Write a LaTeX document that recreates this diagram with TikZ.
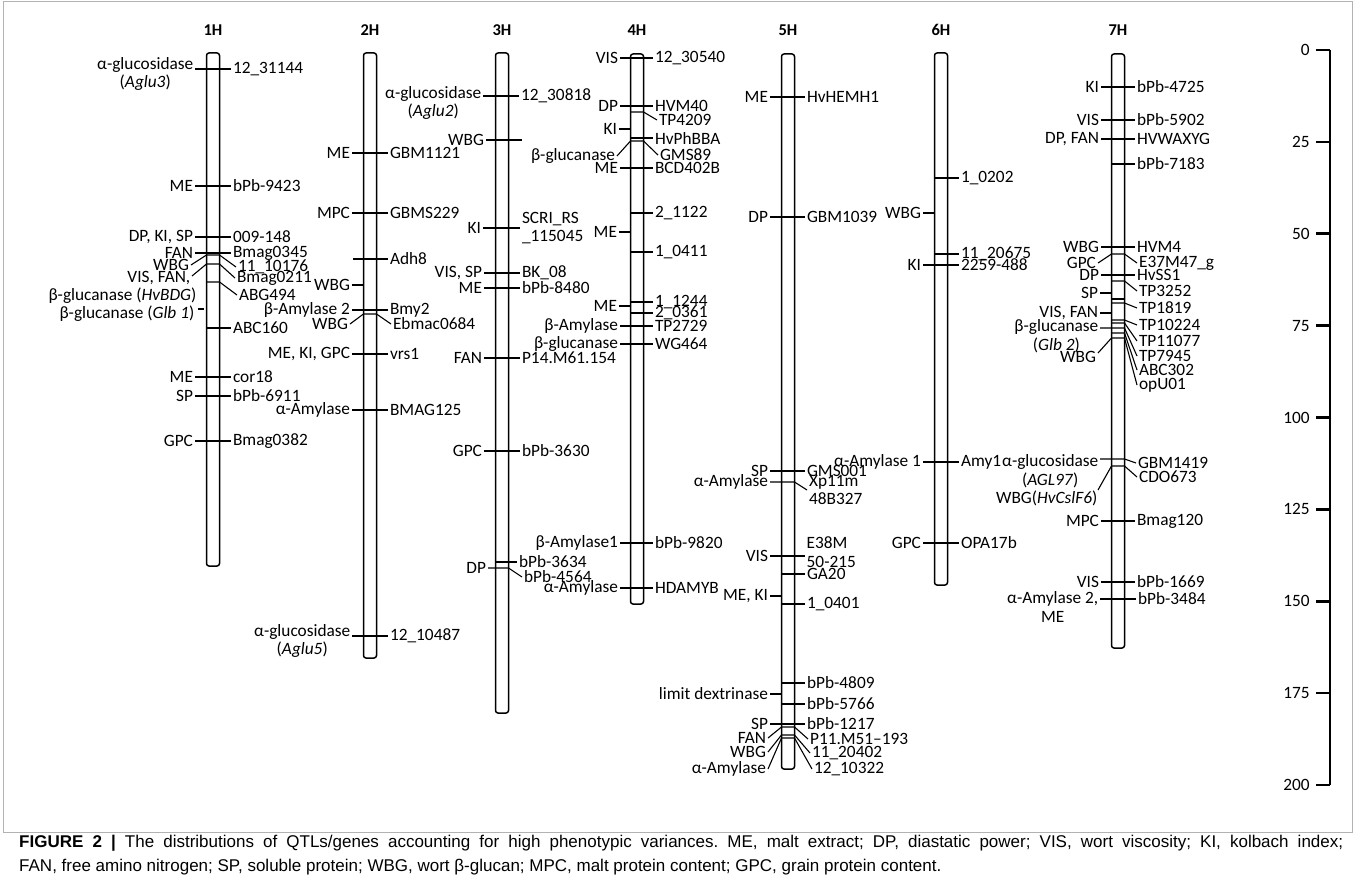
\documentclass[tikz,border=0pt]{standalone}
\usepackage{fontspec}
\setmainfont{Carlito}
\newfontfamily\capfont{Liberation Sans}
\frenchspacing

\begin{document}
\begin{tikzpicture}[
        x=1pt, y=-1pt,
        every node/.style={font=\fontsize{17.3}{18.5}\selectfont, inner sep=1.5pt},
        chrom/.style={draw, line width=1.5pt, rounded corners=2.5pt},
        qline/.style={line width=1.1pt},
        ql/.style={anchor=east},
        mr/.style={anchor=west},
        chname/.style={font=\fontsize{16.5}{18}\selectfont\bfseries},
        capline/.style={anchor=west, inner sep=0pt, font=\capfont\fontsize{17}{20}\selectfont},
        scaletick/.style={line width=2.6pt}
    ]
    \useasboundingbox (0,0) rectangle (1355,883);
    \draw[gray!60, line width=0.8pt] (3,1) rectangle (1352,832);

    % 1H
    \begin{scope}[shift={(213,0)}]
        \node[chname] (h1) at (0,30) {1H};
        \draw[chrom] (-6.5,53) rectangle (6.5,566);
        \foreach \yy/\lt/\rt in {186/ME/bPb-9423, 237/{DP, KI, SP}/009-148, 253/FAN/Bmag0345,
                377/ME/cor18, 396/SP/bPb-6911, 441/GPC/Bmag0382}
            \draw[qline] (-18,\yy) node[ql] (h1l\yy) {\lt} -- (18,\yy) node[mr] (h1r\yy) {\rt};
        \draw[qline] (-18,69) -- (18,69) node[mr] (h1r69) {12\_31144};
        \node[ql, align=center] (aglu3) at (-18,74) {α-glucosidase\\(\textit{Aglu3})};
        \draw[qline] (-22,265) node[ql] (h1wbg) {WBG} -- (-6.5,255) -- (6.5,255) -- (23,267) node[mr] (h1r255) {11\_10176};
        \draw[qline] (-21,276) -- (-6.5,264) -- (6.5,264) -- (22,278) node[mr] (h1r264) {Bmag0211};
        \node[ql] (h1vis) at (-21,278) {VIS, FAN,};
        \node[ql] (hvbdg) at (-15,296) {β-glucanase (\textit{HvBDG})};
        \draw[qline] (-6.5,282) -- (6.5,282) -- (24,295) node[mr] (h1r282) {ABG494};
        \draw[qline] (-15,309) -- (-9,309);
        \node[ql] (glb1) at (-17,314) {β-glucanase (\textit{Glb 1})};
        \draw[qline] (-6.5,328) -- (18,328) node[mr] (h1r328) {ABC160};
    \end{scope}

    % 2H
    \begin{scope}[shift={(370,0)}]
        \node[chname] (h2) at (0,30) {2H};
        \draw[chrom] (-6.5,53) rectangle (6.5,658);
        \foreach \yy/\lt/\rt in {153/ME/GBM1121, 213/MPC/GBMS229, 310/{β-Amylase 2}/Bmy2,
                354/{ME, KI, GPC}/vrs1, 410/α-Amylase/BMAG125}
            \draw[qline] (-18,\yy) node[ql] (h2l\yy) {\lt} -- (18,\yy) node[mr] (h2r\yy) {\rt};
        \draw[qline] (-17,259) -- (18,259) node[mr] (h2r259) {Adh8};
        \draw[qline] (-18,285) node[ql] (h2l285) {WBG} -- (-6.5,285);
        \draw[qline] (-20,324) node[ql] (h2l314) {WBG} -- (-6.5,314) -- (6.5,314) -- (21,324) node[mr] (h2r314) {Ebmac0684};
        \draw[qline] (-18,636) -- (18,636) node[mr] (h2r636) {12\_10487};
        \node[ql, align=center] (aglu5) at (-18,641) {α-glucosidase\\(\textit{Aglu5})};
    \end{scope}

    % 3H
    \begin{scope}[shift={(502,0)}]
        \node[chname] (h3) at (0,30) {3H};
        \draw[chrom] (-6.5,53) rectangle (6.5,713);
        \foreach \yy/\lt/\rt in {273/{VIS, SP}/BK\_08, 288/ME/bPb-8480, 358/FAN/P14.M61.154, 451/GPC/bPb-3630}
            \draw[qline] (-18,\yy) node[ql] (h3l\yy) {\lt} -- (18,\yy) node[mr] (h3r\yy) {\rt};
        \draw[qline] (-19,96) -- (17,96) node[mr] (h3r96) {12\_30818};
        \node[ql, align=center] (aglu2) at (-19,103) {α-glucosidase\\(\textit{Aglu2})};
        \draw[qline] (-16,140) node[ql] (h3l140) {WBG} -- (20,140);
        \draw[qline] (-19,228) node[ql] (h3l228) {KI} -- (18,228) node[mr, align=left] (h3r228) {SCRI\_RS\\\_115045};
        \draw[qline] (-6.5,562) -- (15,562) node[mr] (h3r562) {bPb-3634};
        \draw[qline] (-14,568) node[ql] (h3l568) {DP} -- (6.5,568) -- (20,577) node[mr] (h3r568) {bPb-4564};
    \end{scope}

    % 4H
    \begin{scope}[shift={(637,0)}]
        \node[chname] (h4) at (0,30) {4H};
        \draw[chrom] (-6.5,54) rectangle (6.5,604);
        \foreach \yy/\lt/\rt in {58/VIS/12\_30540, 106/DP/HVM40, 168/ME/BCD402B, 326/β-Amylase/TP2729,
                344/β-glucanase/WG464, 543/β-Amylase1/bPb-9820, 588/α-Amylase/HDAMYB}
            \draw[qline] (-17,\yy) node[ql] (h4l\yy) {\lt} -- (16,\yy) node[mr] (h4r\yy) {\rt};
        \foreach \yy/\rt in {138/HvPhBBA, 213/2\_1122, 252/1\_0411, 302/1\_1244, 313/2\_0361}
            \draw[qline] (-6.5,\yy) -- (16,\yy) node[mr] (h4r\yy) {\rt};
        \foreach \yy/\lt in {129/KI, 232/ME, 306/ME}
            \draw[qline] (-18,\yy) node[ql] (h4l\yy) {\lt} -- (-6.5,\yy);
        \draw[qline] (-6.5,112) -- (6.5,112) -- (20,120) node[mr] (h4r112) {TP4209};
        \draw[qline] (-20,156) node[ql] (h4l141) {β-glucanase} -- (-6.5,141) -- (6.5,141) -- (21,155) node[mr] (h4r141) {GMS89};
    \end{scope}

    % 5H
    \begin{scope}[shift={(788,0)}]
        \node[chname] (h5) at (0,30) {5H};
        \draw[chrom] (-6.5,54) rectangle (6.5,769);
        \foreach \yy/\lt/\rt in {97/ME/HvHEMH1, 217/DP/GBM1039, 471/SP/GMS001, 724/SP/bPb-1217}
            \draw[qline] (-18,\yy) node[ql] (h5l\yy) {\lt} -- (17,\yy) node[mr] (h5r\yy) {\rt};
        \foreach \yy/\rt in {574/GA20, 604/1\_0401, 683/bPb-4809, 704/bPb-5766}
            \draw[qline] (-6.5,\yy) -- (17,\yy) node[mr] (h5r\yy) {\rt};
        \foreach \yy/\lt in {596/{ME, KI}, 694/{limit dextrinase}}
            \draw[qline] (-18,\yy) node[ql] (h5l\yy) {\lt} -- (-6.5,\yy);
        \draw[qline] (-18,482) node[ql] (h5l482) {α-Amylase} -- (6.5,482) -- (19,490) node[mr, align=left] (h5r482) {Xp11m\\48B327};
        \draw[qline] (-18,556) node[ql] (h5l556) {VIS} -- (17,556);
        \node[mr, align=left] (h5r556) at (17,552) {E38M\\50-215};
        \draw[qline] (-20,738) node[ql] (h5l727) {FAN} -- (-6.5,727) -- (6.5,727) -- (20,739) node[mr] (h5r727) {P11.M51–193};
        \draw[qline] (-20,752) node[ql] (h5l735) {WBG} -- (-6.5,735) -- (6.5,735) -- (22,753) node[mr] (h5r735) {11\_20402};
        \draw[qline] (-20,769) node[ql] (h5l738) {α-Amylase} -- (-6.5,738) -- (6.5,738) -- (24,769) node[mr] (h5r738) {12\_10322};
    \end{scope}

    % 6H
    \begin{scope}[shift={(941,0)}]
        \node[chname] (h6) at (0,30) {6H};
        \draw[chrom] (-6.5,53) rectangle (6.5,585);
        \foreach \yy/\lt/\rt in {265/KI/2259-488, 462/{α-Amylase 1}/Amy1, 543/GPC/OPA17b}
            \draw[qline] (-18,\yy) node[ql] (h6l\yy) {\lt} -- (18,\yy) node[mr] (h6r\yy) {\rt};
        \foreach \yy/\rt in {178/1\_0202, 254/11\_20675}
            \draw[qline] (-6.5,\yy) -- (18,\yy) node[mr] (h6r\yy) {\rt};
        \draw[qline] (-18,213) node[ql] (h6l213) {WBG} -- (-6.5,213);
    \end{scope}

    % 7H
    \begin{scope}[shift={(1118,0)}]
        \node[chname] (h7) at (0,30) {7H};
        \draw[chrom] (-6.5,54) rectangle (6.5,648);
        \foreach \yy/\lt/\rt in {87/KI/bPb-4725, 120/VIS/bPb-5902, 139/{DP, FAN}/HVWAXYG, 247/WBG/HVM4,
                275/DP/HvSS1, 521/MPC/Bmag120, 582/VIS/bPb-1669}
            \draw[qline] (-17,\yy) node[ql] (h7l\yy) {\lt} -- (17,\yy) node[mr] (h7r\yy) {\rt};
        \draw[qline] (-6.5,164) -- (17,164) node[mr] (h7r164) {bPb-7183};
        \foreach \yy/\lt in {293/SP, 313/{VIS, FAN}}
            \draw[qline] (-18,\yy) node[ql] (h7l\yy) {\lt} -- (-6.5,\yy);
        \draw[qline] (-20,263) node[ql] (h7l254) {GPC} -- (-6.5,254) -- (6.5,254) -- (19,263) node[mr] (h7r254) {E37M47\_g};
        \draw[qline] (-6.5,281) -- (6.5,281) -- (19,291) node[mr] (h7r281) {TP3252};
        \draw[qline] (-6.5,299) -- (6.5,299);
        \draw[qline] (-6.5,303) -- (6.5,303) -- (19,308) node[mr] (h7r303) {TP1819};
        \draw[qline] (-6.5,320) -- (6.5,320) -- (19,325) node[mr] (h7r320) {TP10224};
        \draw[qline] (-6.5,323) -- (6.5,323) -- (19,341) node[mr] (h7r323) {TP11077};
        \draw[qline] (-18,328) -- (6.5,328) -- (19,356) node[mr] (h7r328) {TP7945};
        \node[ql, align=center] (glb2) at (-18,336) {β-glucanase\\(\textit{Glb 2})};
        \draw[qline] (-6.5,333) -- (6.5,333) -- (19,370) node[mr] (h7r333) {ABC302};
        \draw[qline] (-20,353) node[ql, yshift=-4pt] (h7l338) {WBG} -- (-6.5,338) -- (6.5,338) -- (19,385) node[mr] (h7r338) {opU01};
        \draw[qline] (-18,459) -- (6.5,459) -- (18,463) node[mr] (h7r459) {GBM1419};
        \node[ql, align=center] (agl97) at (-18,471) {α-glucosidase\\(\textit{AGL97})};
        \draw[qline] (-20,490) -- (-6.5,466) -- (6.5,466) -- (19,477) node[mr] (h7r466) {CDO673};
        \node[ql] (cslf6) at (-19,498) {WBG(\textit{HvCslF6})};
        \draw[qline] (-18,599) -- (18,599) node[mr] (h7r599) {bPb-3484};
        \node[ql, align=center] (amy2) at (-18,607) {α-Amylase 2,\\ME};
    \end{scope}

    % scale
    \draw[scaletick] (1330,50) -- (1330,785);
    \foreach \v in {0,25,...,200}
        \draw[scaletick] (1316,50+3.675*\v) node[ql, inner sep=5pt] (s\v) {\v} -- (1330,50+3.675*\v);

    % caption
    \node[capline] (cap1) at (19,843)
        {\makebox[1324pt][s]{\textbf{FIGURE 2 |} The distributions of QTLs/genes accounting for high phenotypic variances. ME, malt extract; DP, diastatic power; VIS, wort viscosity; KI, kolbach index;}};
    \node[capline] (cap2) at (19,867)
        {FAN, free amino nitrogen; SP, soluble protein; WBG, wort β-glucan; MPC, malt protein content; GPC, grain protein content.};
\end{tikzpicture}
\end{document}
